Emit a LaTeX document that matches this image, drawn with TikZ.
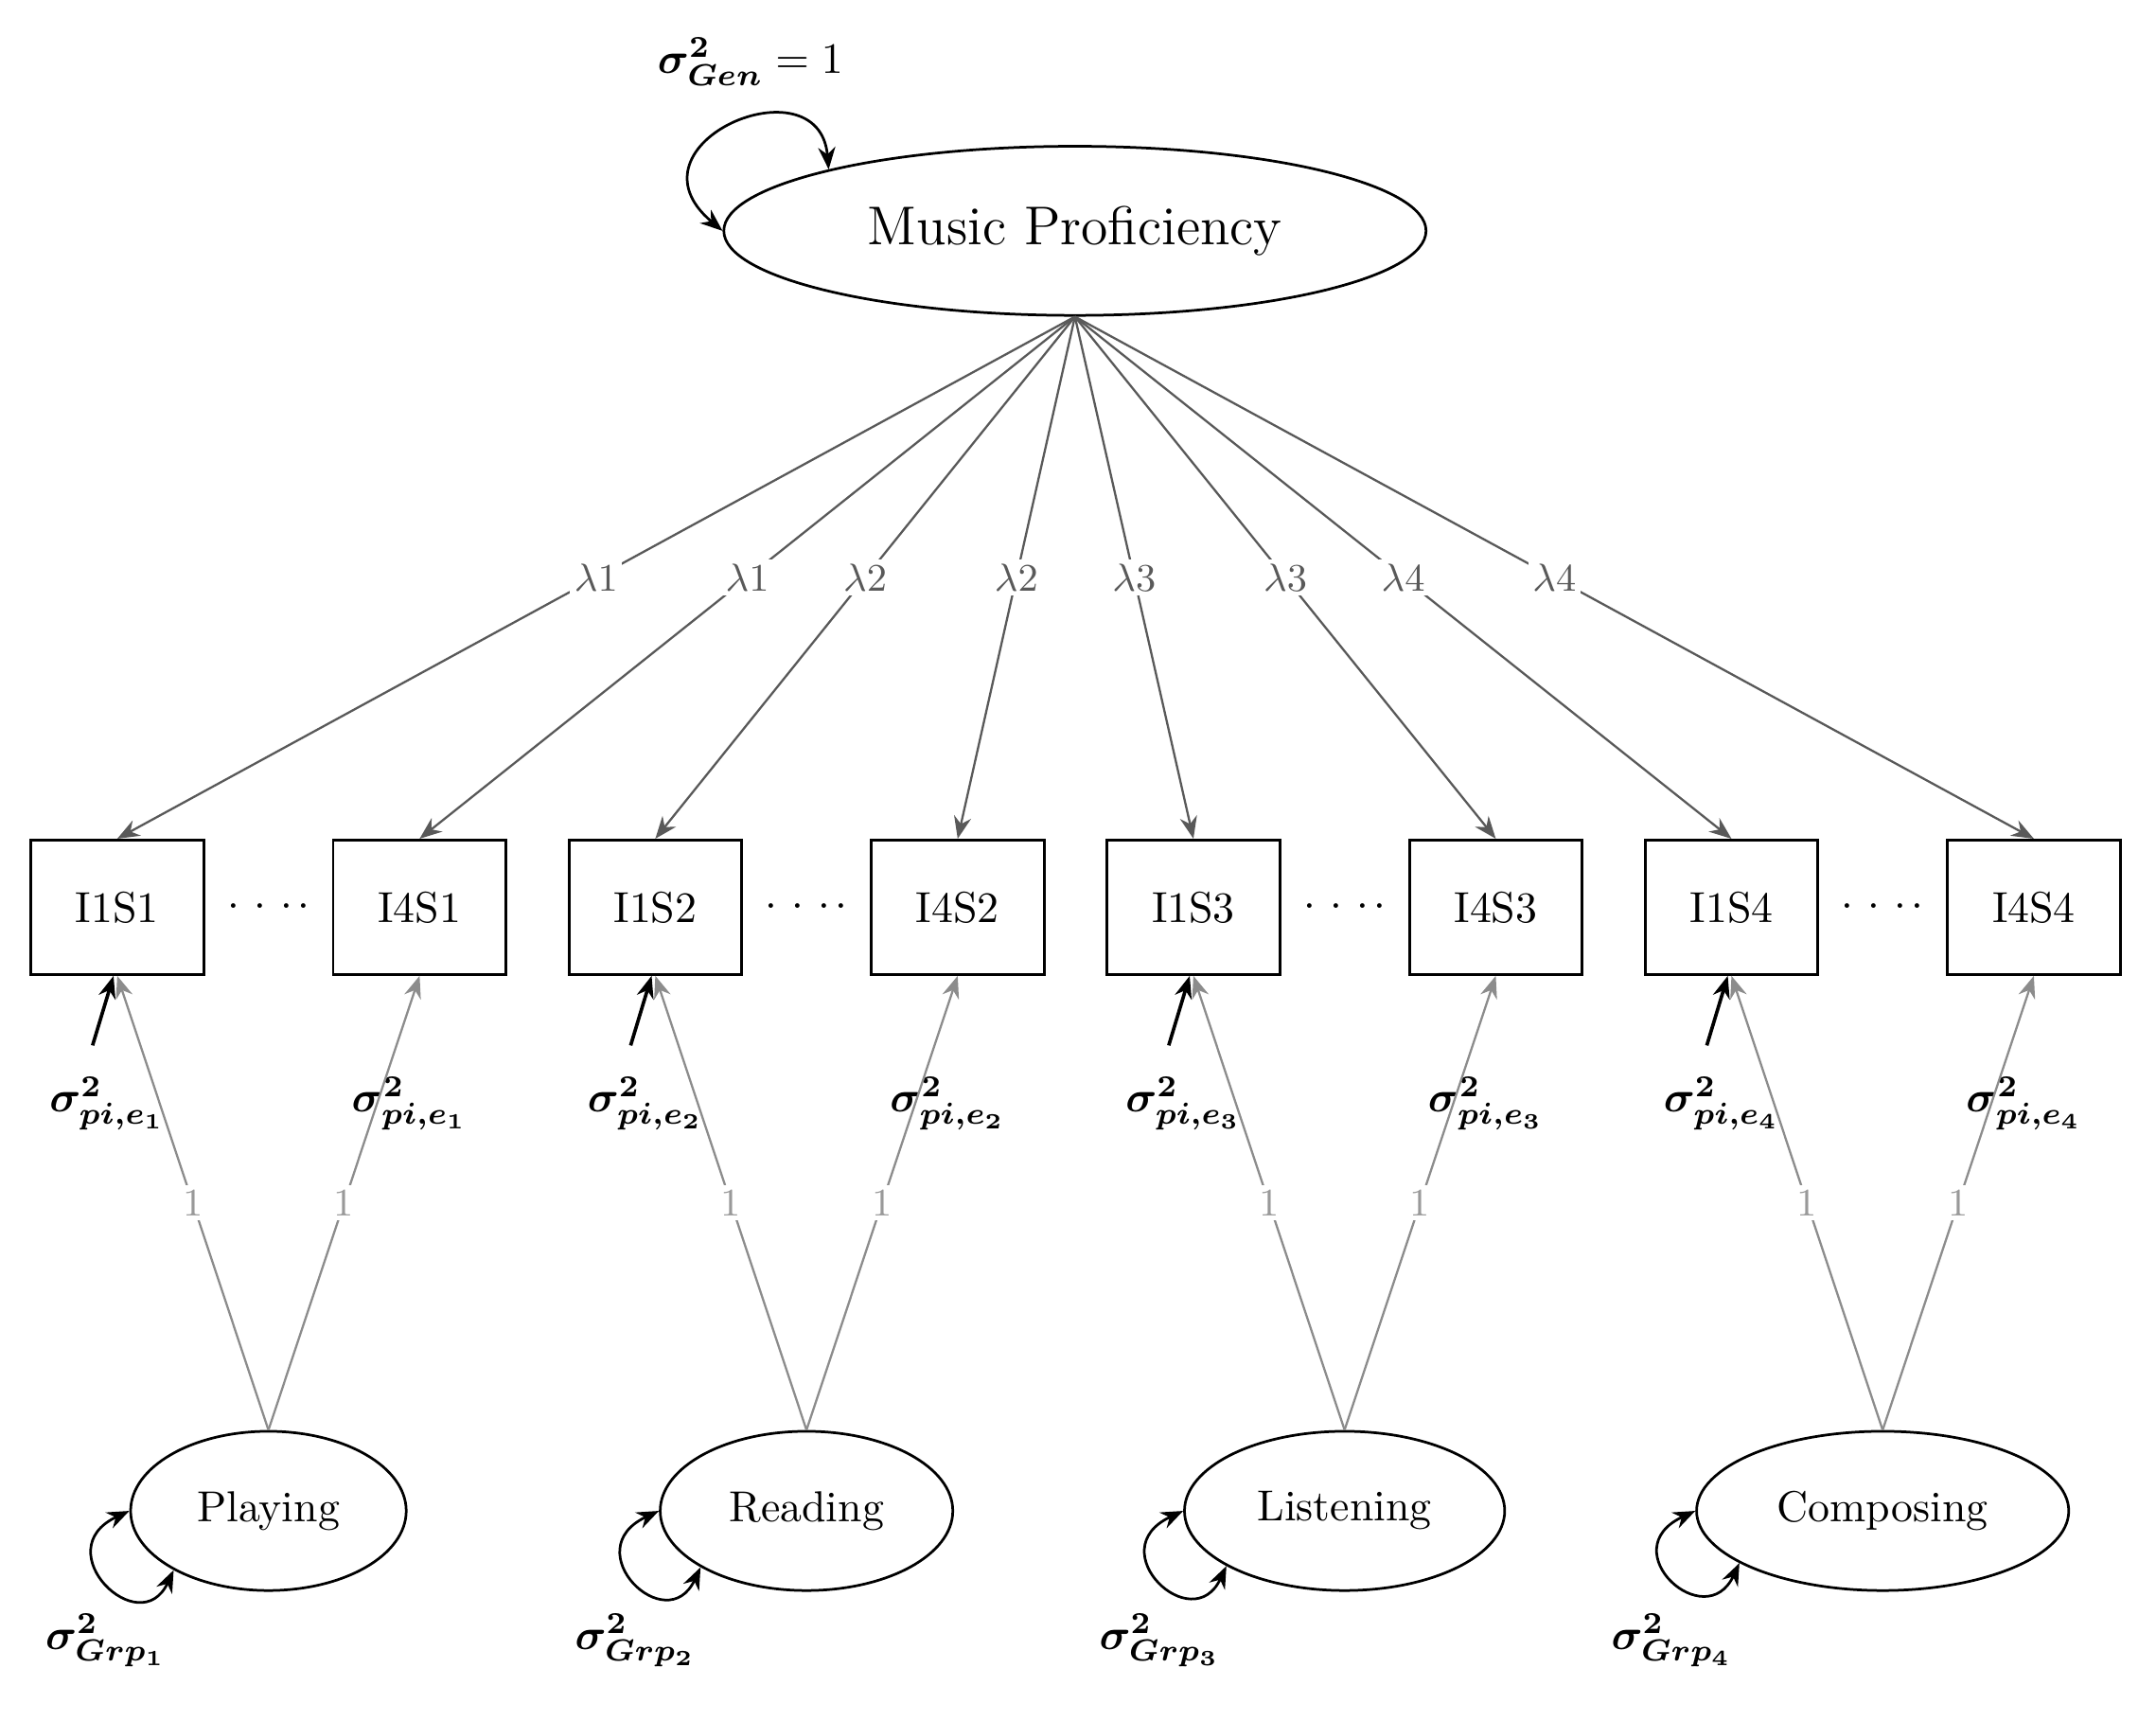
\documentclass[tikz,border=0pt]{standalone}
\usepackage{bm}
\usetikzlibrary{shapes.geometric,arrows.meta}
\begin{document}
\begin{tikzpicture}[>={Stealth[length=1.8mm,width=1.4mm]},
    latent/.style={draw,ellipse,semithick,inner sep=6pt,minimum height=1.29cm},
    item/.style={draw,rectangle,semithick,minimum width=1.4cm,minimum height=1.09cm},
    load/.style={->,line width=0.5pt,draw=black!65},
    fixed/.style={->,line width=0.5pt,draw=black!45},
    lam/.style={fill=white,inner sep=1pt,font=\small,text=black!65},
    one/.style={fill=white,inner sep=1pt,font=\small,text=black!40},
    var/.style={<->,semithick},
    err/.style={->,thick}]
    \useasboundingbox (0,0) rectangle (17.47,-13.94);
    \node[latent,minimum width=5.69cm,minimum height=1.37cm,font=\fontsize{12.6}{15}\selectfont] (mp) at (8.71,-1.87) {Music Proficiency};
    \node (gen) at (6.08,-0.50) {$\bm{\sigma^2_{Gen}}=1$};
    \draw[var] (mp.west) .. controls +(140:1.1) and +(95:0.9) .. (mp.166);
    \foreach \g/\name/\ang in {1/Playing/212,2/Reading/208,3/Listening/205,4/Composing/200}{
      \node[item] (i1s\g) at ({0.95+(\g-1)*4.36},-7.35) {I1S\g};
      \node[item] (i4s\g) at ({3.40+(\g-1)*4.36},-7.35) {I4S\g};
      \node (dots\g) at ({2.175+(\g-1)*4.36},-7.35) {$\cdot\mkern2mu\cdot\mkern2mu\cdot\mkern2mu\cdot$};
      \node[latent] (grp\g) at ({2.175+(\g-1)*4.36},-12.24) {\name};
      \draw[load] (mp.south) -- node[lam]{$\lambda\g$} (i1s\g.north);
      \draw[load] (mp.south) -- node[lam]{$\lambda\g$} (i4s\g.north);
      % residual variances of the items
      \node (e1s\g) at ({0.87+(\g-1)*4.36},-8.94) {$\bm{\sigma^2_{pi,e_\g}}$};
      \node (e4s\g) at ({3.32+(\g-1)*4.36},-8.94) {$\bm{\sigma^2_{pi,e_\g}}$};
      \draw[err] ([shift={(-0.12,0.13)}]e1s\g.north) -- ([xshift=-0.3mm]i1s\g.south);
      \draw[fixed] (grp\g.north) -- node[one]{1} (i1s\g.south);
      \draw[fixed] (grp\g.north) -- node[one]{1} (i4s\g.south);
      % group variances
      \draw[var] (grp\g.west) .. controls +(205:0.75) and +(245:0.65) .. (grp\g.\ang);
      \node (s\g) at ([shift={(-0.19,-1.05)}]grp\g.west) {$\bm{\sigma^2_{Grp_\g}}$};
    }
\end{tikzpicture}
\end{document}
